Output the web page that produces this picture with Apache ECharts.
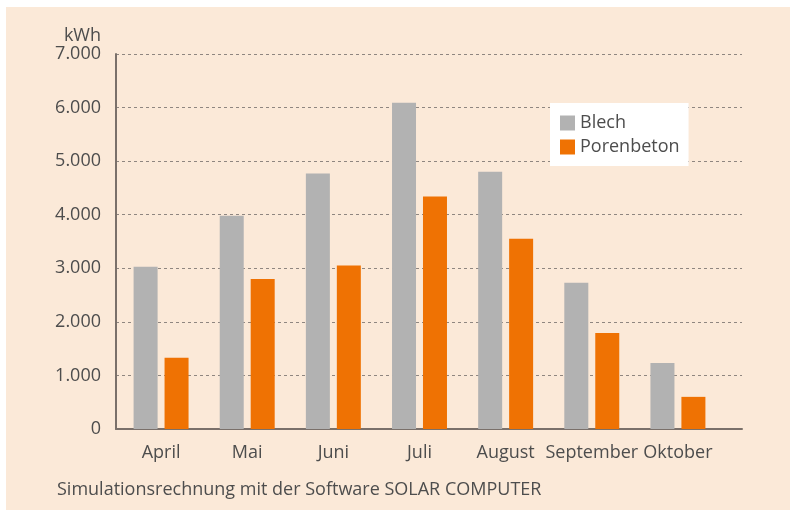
<!DOCTYPE html>
<html>
<head>
<meta charset="utf-8">
<script src="https://cdn.jsdelivr.net/npm/echarts@6/dist/echarts.min.js"></script>
<style>
  html, body { margin: 0; padding: 0; background: #fff; }
  #chart { width: 790px; height: 510px; }
</style>
</head>
<body>
<div id="chart"></div>
<script>
// Monatswerte in kWh
const months = ['April', 'Mai', 'Juni', 'Juli', 'August', 'September', 'Oktober']
const blech = [3030, 3980, 4770, 6090, 4800, 2730, 1230]
const porenbeton = [1330, 2800, 3050, 4340, 3550, 1790, 600]
const yTicks = [0, 1000, 2000, 3000, 4000, 5000, 6000, 7000]

const textColor = '#4d4d4d'
const font = '"Open Sans", sans-serif'

const fmt = v => v === 0 ? '0' : String(v).replace(/\B(?=(\d{3})+(?!\d))/g, '.')

const chart = echarts.init(document.getElementById('chart'))

const option = {
  animation: false,
  textStyle: { fontFamily: font },
  graphic: [
    {
      type: 'rect',
      z: -10,
      shape: { x: 6, y: 7, width: 784, height: 503 },
      style: { fill: '#fbe9d8' }
    },
    {
      type: 'text',
      x: 57,
      y: 490,
      style: {
        text: 'Simulationsrechnung mit der Software SOLAR COMPUTER',
        font: '18px "Open Sans", sans-serif',
        fill: textColor,
        verticalAlign: 'middle'
      }
    }
  ],
  legend: {
    orient: 'vertical',
    left: 550,
    top: 103,
    backgroundColor: '#fff',
    padding: [11, 9, 10, 10],
    itemWidth: 15,
    itemHeight: 15,
    itemGap: 6,
    icon: 'rect',
    textStyle: { fontSize: 18, color: textColor, fontFamily: font },
    data: ['Blech', 'Porenbeton']
  },
  grid: [
    { left: 116, right: 48, top: 54, bottom: 81 },
    { left: 118, right: 69, top: 54, bottom: 81 }
  ],
  xAxis: [
    {
      gridIndex: 0,
      type: 'value',
      min: 0,
      max: 1,
      axisLine: { show: true, onZero: false, lineStyle: { color: '#7a706a', width: 2 } },
      axisTick: { show: false },
      axisLabel: { show: false },
      splitLine: { show: false }
    },
    {
      gridIndex: 1,
      type: 'category',
      data: months,
      axisLine: { show: false },
      axisTick: { show: false },
      axisLabel: { interval: 0, margin: 15, fontSize: 18, color: textColor, fontFamily: font }
    }
  ],
  yAxis: [
    {
      gridIndex: 0,
      type: 'value',
      min: yTicks[0],
      max: yTicks[yTicks.length - 1],
      interval: 1000,
      name: 'kWh',
      nameLocation: 'end',
      nameGap: 18,
      nameTextStyle: {
        fontSize: 18, color: textColor, fontFamily: font,
        align: 'right', verticalAlign: 'middle', padding: [0, 15, 0, 0]
      },
      axisLine: { show: true, lineStyle: { color: '#7a706a', width: 2 } },
      axisTick: { show: false },
      axisLabel: { margin: 15, fontSize: 18, color: textColor, fontFamily: font, formatter: fmt },
      splitLine: { show: true, lineStyle: { color: '#8f8680', type: [3, 3], width: 1 } }
    },
    {
      gridIndex: 1,
      type: 'value',
      min: yTicks[0],
      max: yTicks[yTicks.length - 1],
      show: false,
      splitLine: { show: false }
    }
  ],
  series: [
    {
      name: 'Blech',
      type: 'bar',
      xAxisIndex: 1,
      yAxisIndex: 1,
      barWidth: 24,
      barGap: '29%',
      itemStyle: { color: '#b2b2b2' },
      data: blech
    },
    {
      name: 'Porenbeton',
      type: 'bar',
      xAxisIndex: 1,
      yAxisIndex: 1,
      barWidth: 24,
      barGap: '29%',
      itemStyle: { color: '#ef7203' },
      data: porenbeton
    }
  ]
}

chart.setOption(option)
</script>
</body>
</html>
